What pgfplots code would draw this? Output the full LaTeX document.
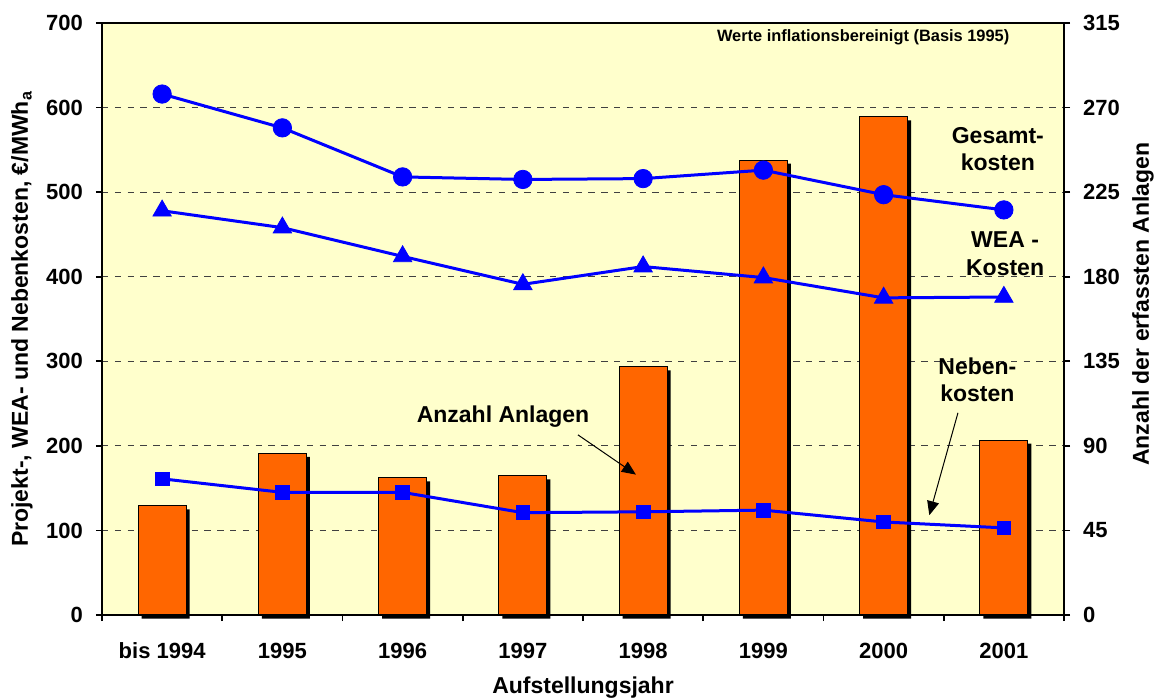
\documentclass[border=0pt]{standalone}
\usepackage{fontspec}
\setmainfont{Liberation Sans}
\usepackage{pgfplots}
\usepackage{pgfplotstable}
\pgfplotsset{compat=1.18}
\usetikzlibrary{arrows.meta}
\definecolor{bgyellow}{HTML}{FFFFCC}
\definecolor{barorange}{HTML}{FF6600}
\definecolor{lineblue}{HTML}{0000FF}

\pgfplotstableread{
x n
0 58
1 86
2 73
3 74
4 132
5 242
6 265
7 93
}\bars

\pgfplotstableread{
x gesamt wea neben
0 616 478 161
1 576 458 145
2 518 424 145
3 515 391 121
4 516 412 122
5 526 399 124
6 497 375 110
7 479 376 103
}\costs

\begin{document}
\begin{tikzpicture}
\pgfplotsset{
  common/.style={
    scale only axis, width=481pt, height=296pt,
    xmin=-0.5, xmax=7.5,
    tick align=outside,
    major tick length=3pt, minor tick length=3pt,
    every tick/.style={black, line width=0.8pt},
    axis line style={line width=1.3pt},
    /pgf/number format/assume math mode=true,
    tick label style={font=\fontsize{11}{13}\selectfont\bfseries},
    label style={font=\fontsize{11.5}{13.5}\selectfont\bfseries},
    clip=false,
  }
}
\begin{axis}[common, name=ax,
  ymin=0, ymax=315, ytick={0,45,...,315},
  ytick pos=right, yticklabel pos=right,
  xtick={0,...,7},
  xticklabels={bis 1994,1995,1996,1997,1998,1999,2000,2001},
  minor xtick={-0.5,0.5,...,7.5},
  xtick pos=bottom,
  major x tick style={draw=none},
  xticklabel style={anchor=base, yshift=-18.5pt},
  yticklabel style={xshift=3pt},
  ymajorgrids,
  grid style={black!75, line width=0.6pt, dash pattern=on 3.2pt off 3.2pt},
  axis background/.style={fill=bgyellow},
  xlabel={Aufstellungsjahr},
  ylabel={Anzahl der erfassten Anlagen},
  xlabel style={at={(axis description cs:0.5,0)}, anchor=center, yshift=-36.5pt},
  ylabel style={at={(axis description cs:1,0.525)}, anchor=center, yshift=-39.5pt},
]
\addplot[ybar, bar shift=0pt, bar width=24pt, fill=black, draw=none,
  xshift=1.75pt, yshift=-1.75pt] table[x=x,y=n]{\bars};
\addplot[ybar, bar shift=0pt, bar width=24pt, fill=barorange, draw=black,
  line width=0.5pt] table[x=x,y=n]{\bars};
\end{axis}
\begin{axis}[common,
  ymin=0, ymax=700, ytick={0,100,...,700},
  ytick pos=left, xtick=\empty,
  yticklabel style={xshift=-3pt},
  ylabel={Projekt-, WEA- und Nebenkosten, €/MWh\textsubscript{a}},
  ylabel style={at={(axis description cs:0,0.5)}, anchor=center, yshift=40pt},
]
\addplot[lineblue, line width=1.5pt, mark=*, mark size=4.6pt,
  mark options={line width=0.4pt}] table[x=x,y=gesamt]{\costs};
\addplot[lineblue, line width=1.5pt, mark=triangle*, mark size=5.3pt,
  mark options={line width=0.4pt}] table[x=x,y=wea]{\costs};
\addplot[lineblue, line width=1.5pt, mark=square*, mark size=3.4pt,
  mark options={line width=0.4pt}] table[x=x,y=neben]{\costs};
\begin{scope}[font=\fontsize{11.5}{13.8}\selectfont\bfseries]
\node[align=center] at (axis cs:6.95,551) {Gesamt-\\kosten};
\node[align=center] at (axis cs:7.01,427) {WEA -\\Kosten};
\node[align=center] at (axis cs:6.78,278) {Neben-\\kosten};
\node at (axis cs:2.835,234) {Anzahl Anlagen};
\end{scope}
\node[font=\fontsize{8.2}{9}\selectfont\bfseries] at (axis cs:5.83,683) {Werte inflationsbereinigt (Basis 1995)};
\draw[line width=0.5pt, -{Triangle[length=7pt,width=6pt]}] (axis cs:3.458,213) -- (axis cs:3.94,166);
\draw[line width=0.5pt, -{Triangle[length=7pt,width=6pt]}] (axis cs:6.618,239) -- (axis cs:6.38,118);
\end{axis}
\pgfresetboundingbox
\path ([shift={(-51pt,-42.5pt)}]ax.south west) rectangle ([shift={(48pt,11.5pt)}]ax.north east);
\end{tikzpicture}
\end{document}
